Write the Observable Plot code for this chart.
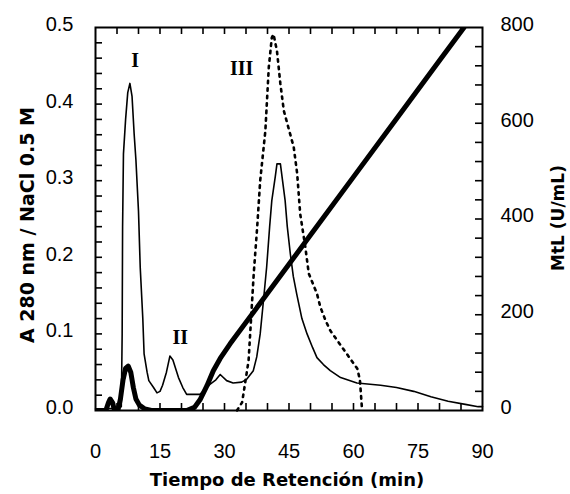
<!DOCTYPE html>
<html><head><meta charset="utf-8">
<script src="https://cdn.jsdelivr.net/npm/d3@7"></script>
<script src="https://cdn.jsdelivr.net/npm/@observablehq/plot@0.6"></script>
<style>body{margin:0;background:#fff}</style>
</head><body><div id="chart"></div>
<script>
// Absorbance at 280 nm (left axis)
const absorbance = [
  [0,0.002],[2,0.002],[4,0.003],[6.0,0.005],[6.2,0.10],[6.3,0.24],[6.5,0.335],[7.0,0.38],[7.5,0.415],
  [8.0,0.427],[8.5,0.41],[9.0,0.36],[9.4,0.327],[10.0,0.26],[10.4,0.187],[11.0,0.12],[11.3,0.074],
  [12.0,0.05],[12.4,0.039],[13.5,0.03],[14.3,0.023],[15.0,0.025],[15.6,0.033],[16.5,0.05],[17.3,0.071],
  [18.0,0.066],[19.3,0.043],[20.3,0.03],[21.2,0.021],[24.3,0.021],[26.6,0.034],[28.0,0.04],[29.0,0.047],
  [30.5,0.039],[32.0,0.036],[34.0,0.037],[35.2,0.041],[36.7,0.052],[37.5,0.07],[38.3,0.10],[39.0,0.14],
  [39.8,0.187],[40.5,0.24],[41.0,0.274],[41.8,0.305],[42.2,0.322],[43.0,0.322],[43.5,0.30],[44.1,0.274],
  [44.6,0.24],[45.3,0.205],[46.0,0.175],[46.8,0.152],[48.0,0.12],[49.2,0.10],[50.5,0.082],[51.5,0.069],
  [53.0,0.06],[54.6,0.052],[57.0,0.043],[60.8,0.036],[66.3,0.033],[70,0.03],[74,0.025],[78,0.018],
  [82,0.012],[86,0.008],[89,0.005],[90,0.005]
];
// NaCl gradient / conductivity trace (left axis, thick)
const nacl = [
  [0,0],[2.4,0],[3.0,0.01],[3.4,0.015],[4.0,0.01],[4.4,0],[5.2,0],[5.8,0.015],[6.4,0.04],[7.0,0.055],
  [7.6,0.058],[8.2,0.05],[8.8,0.03],[9.4,0.015],[10.2,0.007],[11.5,0.002],[13,0],[21.2,0],[23.0,0.004],
  [24.3,0.014],[25.9,0.032],[27.4,0.052],[29.0,0.068],[31.3,0.087],[40,0.153],[50,0.229],[60,0.305],
  [70,0.381],[80,0.457],[85.7,0.5]
];
// MtL activity, U/mL (right axis, dotted)
const mtl = [
  [32.9,0],[34.1,17],[35.6,104],[36.8,286],[37.6,383],[38.3,480],[39.5,584],[40.3,717],[41.0,779],
  [41.4,786],[42.2,751],[43.0,682],[43.8,626],[46.1,550],[46.9,495],[47.6,411],[48.8,341],[49.6,286],
  [51.5,244],[52.3,216],[53.5,188],[54.6,167],[60.9,87],[61.5,63],[62.0,0]
];
const peakLabels = [{t:9.2,v:0.457,label:"I"},{t:19.7,v:0.095,label:"II"},{t:34.0,v:0.446,label:"III"}];

const xTickLabels = [0,15,30,45,60,75,90];
const yLeftLabels = [0,0.1,0.2,0.3,0.4,0.5];
const yRightLabels = [0,200,400,600,800];
const rightMax = 800, leftMax = 0.5;
const toLeft = v => v * leftMax / rightMax;

const W = 570, H = 494, mL = 95, mR = 88, mT = 27, mB = 84;
const pW = W - mL - mR, pH = H - mT - mB, tk = 7;
const xMinor = d3.range(5, 90, 5);
const yMinor = d3.range(1, 25).map(i => i * 0.02);
const rMinor = d3.range(1, 20).map(i => toLeft(i * 40));

const chart = Plot.plot({
  width: W, height: H,
  marginLeft: mL, marginRight: mR, marginTop: mT, marginBottom: mB,
  style: {fontFamily: "Liberation Sans", fontSize: "20px", background: "white", color: "black"},
  x: {domain: [0, 90]},
  y: {domain: [0, leftMax]},
  marks: [
    Plot.line(absorbance, {x: d => d[0], y: d => d[1], stroke: "black", strokeWidth: 1.6}),
    Plot.line(mtl, {x: d => d[0], y: d => toLeft(d[1]), stroke: "black", strokeWidth: 2.6, strokeDasharray: "2.5,5"}),
    Plot.line(nacl, {x: d => d[0], y: d => d[1], stroke: "black", strokeWidth: 5, clip: true}),
    Plot.text(peakLabels, {x: "t", y: "v", text: "label", fontFamily: "Liberation Serif", fontWeight: "bold", fontSize: 20}),
    // inward ticks
    Plot.ruleX(xMinor, {x: d => d, insetTop: pH - tk, stroke: "black", strokeWidth: 1.6}),
    Plot.ruleX(xMinor, {x: d => d, insetBottom: pH - tk, stroke: "black", strokeWidth: 1.6}),
    Plot.ruleY(yMinor, {y: d => d, insetRight: pW - tk, stroke: "black", strokeWidth: 1.6}),
    Plot.ruleY(rMinor, {y: d => d, insetLeft: pW - tk, stroke: "black", strokeWidth: 1.6}),
    Plot.frame({stroke: "black", strokeWidth: 2}),
    Plot.axisX(xTickLabels, {tickSize: 0, tickPadding: 33, fontSize: 20, label: null}),
    Plot.axisY(yLeftLabels, {anchor: "left", tickSize: 0, tickPadding: 22, dy: -3, fontSize: 20, tickFormat: d3.format(".1f"), label: null}),
    Plot.axisY(yRightLabels.map(toLeft), {anchor: "right", tickSize: 0, tickPadding: 18, dy: -3, fontSize: 20, tickFormat: d => String(Math.round(d * rightMax / leftMax)), label: null}),
    Plot.text(["Tiempo de Retención (min)"], {text: d => d, frameAnchor: "bottom", textAnchor: "middle", dy: 75, dx: -2, fontFamily: "DejaVu Sans", fontWeight: "bold", fontSize: 18}),
    Plot.text(["A 280 nm / NaCl 0.5 M"], {text: d => d, frameAnchor: "left", textAnchor: "middle", dx: -68, dy: 6, rotate: -90, fontFamily: "DejaVu Sans", fontWeight: "bold", fontSize: 19}),
    Plot.text(["MtL (U/mL)"], {text: d => d, frameAnchor: "right", textAnchor: "middle", dx: 76, dy: -1, rotate: -90, fontFamily: "DejaVu Sans", fontWeight: "bold", fontSize: 17})
  ]
});
document.getElementById("chart").appendChild(chart);
</script>
</body></html>
